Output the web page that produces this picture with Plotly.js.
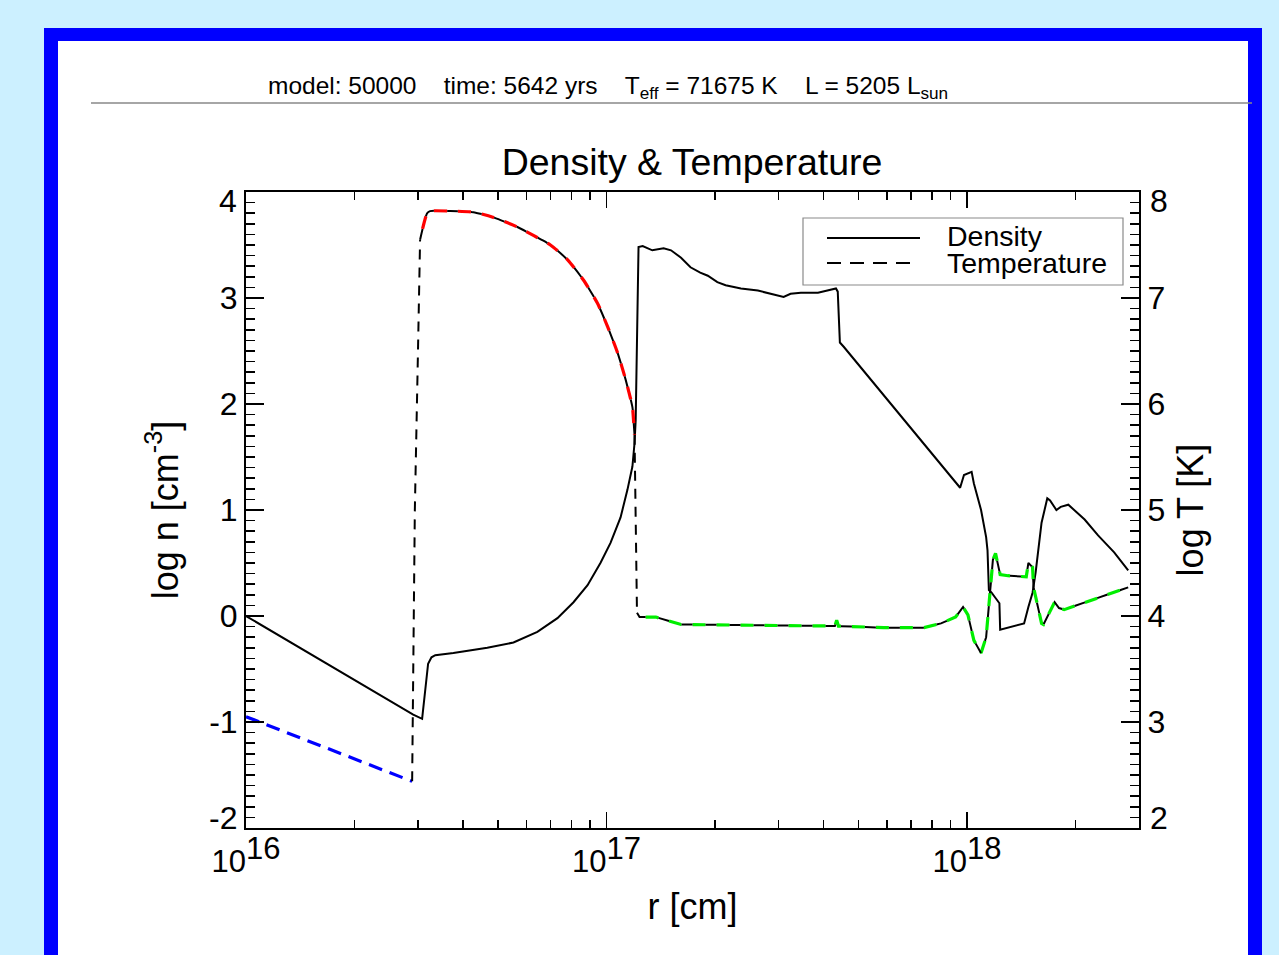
<!DOCTYPE html>
<html>
<head>
<meta charset="utf-8">
<script src="https://cdn.plot.ly/plotly-3.0.1.min.js"></script>
<style>
  html, body { margin: 0; padding: 0; background: #ccf0ff; width: 1279px; height: 955px; overflow: hidden; }
  #frame { position: absolute; left: 44px; top: 28px; width: 1190px; height: 960px; background: #ffffff;
           border-left: 14px solid #0000ff; border-right: 14px solid #0000ff; border-top: 13px solid #0000ff; }
  #plot { position: absolute; left: 0; top: 0; width: 1279px; height: 955px; }
</style>
</head>
<body>
<div id="frame"></div>
<div id="plot"></div>
<script>
// ---------------- data ----------------
// Density profile: radius [cm] and log n [cm^-3]
const r_density = [1.00e16, 2.91e16, 3.08e16, 3.20e16, 3.27e16, 3.35e16, 3.76e16, 4.67e16, 5.52e16, 6.43e16,
  7.31e16, 8.10e16, 8.86e16, 9.62e16, 1.026e17, 1.094e17, 1.143e17, 1.18e17, 1.196e17, 1.205e17,
  1.227e17, 1.26e17, 1.34e17, 1.44e17, 1.51e17, 1.61e17, 1.71e17, 1.82e17, 1.91e17, 2.03e17,
  2.14e17, 2.36e17, 2.63e17, 2.91e17, 3.10e17, 3.24e17, 3.46e17, 3.86e17, 4.11e17, 4.33e17,
  4.38e17, 4.44e17, 4.55e17, 9.57e17, 9.81e17, 1.03e18, 1.045e18, 1.094e18, 1.13e18, 1.14e18,
  1.15e18, 1.17e18, 1.20e18, 1.23e18, 1.236e18, 1.44e18, 1.48e18, 1.52e18, 1.55e18, 1.61e18,
  1.67e18, 1.70e18, 1.77e18, 1.82e18, 1.91e18, 2.12e18, 2.31e18, 2.56e18, 2.80e18];
const logn_density = [0.00, -0.93, -0.97, -0.45, -0.39, -0.37, -0.35, -0.30, -0.25, -0.15,
  -0.02, 0.13, 0.29, 0.50, 0.69, 0.93, 1.19, 1.41, 1.63, 1.85,
  3.48, 3.49, 3.45, 3.47, 3.45, 3.38, 3.29, 3.24, 3.21, 3.15,
  3.12, 3.09, 3.07, 3.03, 3.01, 3.04, 3.05, 3.05, 3.07, 3.09,
  3.06, 2.58, 2.54, 1.21, 1.33, 1.36, 1.25, 1.00, 0.745, 0.62,
  0.245, 0.22, 0.17, 0.12, -0.13, -0.07, 0.085, 0.22, 0.41, 0.88,
  1.11, 1.09, 1.00, 1.03, 1.05, 0.91, 0.76, 0.60, 0.43];

// Temperature profile: radius [cm] and log T [K]
const r_temp = [1.00e16, 2.89e16, 2.94e16, 3.00e16, 3.04e16, 3.18e16, 3.24e16, 3.69e16, 4.27e16, 4.86e16,
  5.66e16, 6.27e16, 6.99e16, 7.80e16, 8.63e16, 9.44e16, 1.007e17, 1.074e17, 1.13e17, 1.18e17,
  1.19e17, 1.196e17, 1.205e17, 1.215e17, 1.235e17, 1.37e17, 1.61e17, 4.30e17, 4.35e17, 4.40e17,
  4.76e17, 5.88e17, 7.60e17, 8.47e17, 9.30e17, 9.75e17, 1.006e18, 1.045e18, 1.094e18, 1.13e18,
  1.16e18, 1.18e18, 1.20e18, 1.236e18, 1.30e18, 1.46e18, 1.48e18, 1.52e18, 1.53e18, 1.57e18,
  1.61e18, 1.63e18, 1.69e18, 1.75e18, 1.80e18, 1.86e18, 2.80e18];
const logT_temp = [3.05, 2.44, 5.00, 6.51, 7.55, 7.80, 7.82, 7.82, 7.81, 7.76,
  7.67, 7.59, 7.50, 7.36, 7.17, 6.95, 6.73, 6.48, 6.23, 5.97,
  5.82, 5.71, 5.00, 4.03, 3.99, 3.99, 3.92, 3.905, 3.96, 3.905,
  3.90, 3.89, 3.89, 3.93, 3.99, 4.085, 4.01, 3.77, 3.65, 3.80,
  4.245, 4.53, 4.59, 4.39, 4.38, 4.37, 4.50, 4.46, 4.27, 4.085,
  3.93, 3.92, 4.03, 4.13, 4.075, 4.06, 4.27];

// Phase boundaries (radius) used to colour the temperature curve
const coldMaxR = 2.89e16;               // blue  : r <= coldMaxR
const hotRange = [3.04e16, 1.196e17];   // red   : hot bubble
const warmMinR = 1.215e17;              // green : r >= warmMinR

const xTickVals = [1e16, 1e17, 1e18];
const xTickText = ['10<sup><span style="font-size:31px">16</span></sup>',
                   '10<sup><span style="font-size:31px">17</span></sup>',
                   '10<sup><span style="font-size:31px">18</span></sup>'];
const yTickVals = [-2, -1, 0, 1, 2, 3, 4];
const yTickText = ['', '-1', '0', '1', '2', '3', ''];
const y2TickVals = [2, 3, 4, 5, 6, 7, 8];
const y2TickText = ['', '3', '4', '5', '6', '7', ''];
// end labels that sit just inside the axis range, as in the original
const yEndLabels = [{v: -2, text: '-2'}, {v: 4, text: '4'}];
const y2EndLabels = [{v: 2, text: '2'}, {v: 8, text: '8'}];

// ---------------- helpers ----------------
function pick(lo, hi) {
  const xs = [], ys = [];
  for (let i = 0; i < r_temp.length; i++) {
    if (r_temp[i] >= lo && r_temp[i] <= hi) { xs.push(r_temp[i]); ys.push(logT_temp[i]); }
  }
  return {x: xs, y: ys};
}
const FONT = 'Liberation Sans, Arial, Helvetica, sans-serif';
// plot area in pixels
const L = 246, R = 1139, T = 192, B = 828;
const px = v => (v - L) / (R - L);
const py = v => (B - v) / (B - T);

const blackDash = '10px,8px';
const pairBlack = '11px,13px';
const pairColor = '0px,11px,13px,0px';

const cold = pick(0, coldMaxR);
const jump1 = pick(coldMaxR, hotRange[0]);
const hot = pick(hotRange[0], hotRange[1]);
const drop = pick(hotRange[1], warmMinR);
const warm = pick(warmMinR, Infinity);

const traces = [
  {x: r_density, y: logn_density, type: 'scatter', mode: 'lines', name: 'Density',
   line: {color: '#000', width: 2}, xaxis: 'x', yaxis: 'y'},
  {x: cold.x, y: cold.y, type: 'scatter', mode: 'lines', name: 'Temperature (cold)',
   line: {color: '#0000ff', width: 3.2, dash: '14px,8px'}, yaxis: 'y2'},
  {x: jump1.x, y: jump1.y, type: 'scatter', mode: 'lines', name: 'Temperature',
   line: {color: '#000', width: 2, dash: blackDash}, yaxis: 'y2'},
  {x: hot.x, y: hot.y, type: 'scatter', mode: 'lines', name: 'Temperature (hot)',
   line: {color: '#ff0000', width: 3.2, dash: pairColor, shape: 'spline', smoothing: 0.6}, yaxis: 'y2'},
  {x: hot.x, y: hot.y, type: 'scatter', mode: 'lines', name: 'Temperature',
   line: {color: '#000', width: 2, dash: pairBlack, shape: 'spline', smoothing: 0.6}, yaxis: 'y2'},
  {x: drop.x, y: drop.y, type: 'scatter', mode: 'lines', name: 'Temperature',
   line: {color: '#000', width: 2, dash: blackDash}, yaxis: 'y2'},
  {x: warm.x, y: warm.y, type: 'scatter', mode: 'lines', name: 'Temperature (warm)',
   line: {color: '#00ee00', width: 3.2, dash: pairColor}, yaxis: 'y2'},
  {x: warm.x, y: warm.y, type: 'scatter', mode: 'lines', name: 'Temperature',
   line: {color: '#000', width: 2, dash: pairBlack}, yaxis: 'y2'}
];

const tickFont = {family: FONT, size: 32, color: '#000'};
const endAnn = [];
yEndLabels.forEach(e => endAnn.push({xref: 'paper', yref: 'paper', x: px(239), y: py(e.v === 4 ? 201 : 818),
  xanchor: 'right', yanchor: 'middle', showarrow: false, text: e.text, font: tickFont}));
y2EndLabels.forEach(e => endAnn.push({xref: 'paper', yref: 'paper', x: px(1148), y: py(e.v === 8 ? 201 : 818),
  xanchor: 'left', yanchor: 'middle', showarrow: false, text: e.text, font: tickFont}));

const layout = {
  width: 1279, height: 955,
  margin: {l: L, r: 1279 - R, t: T, b: 955 - B, pad: 0},
  paper_bgcolor: 'rgba(0,0,0,0)',
  plot_bgcolor: 'rgba(0,0,0,0)',
  showlegend: false,
  font: {family: FONT, color: '#000'},
  title: {text: 'Density & Temperature', font: {family: FONT, size: 37.5, color: '#000'},
          x: px(692), xref: 'paper', y: 1 - 162 / 955, yref: 'container', xanchor: 'center', yanchor: 'middle'},
  xaxis: {
    type: 'log', range: [16, Math.log10(3.0e18)],
    showgrid: false, zeroline: false, showline: true, linecolor: '#000', linewidth: 2, mirror: 'ticks',
    ticks: 'inside', ticklen: 16, tickwidth: 1.5, tickcolor: '#000',
    tickmode: 'array', tickvals: xTickVals, ticktext: xTickText, ticklabelstandoff: 5,
    tickfont: {family: FONT, size: 31, color: '#000'},
    minor: {ticks: 'inside', ticklen: 8, tickwidth: 1.5, tickcolor: '#000', dtick: 'D1', showgrid: false},
    title: {text: 'r [cm]', font: {family: FONT, size: 36, color: '#000'}, standoff: 16},
    automargin: false
  },
  yaxis: {
    range: [-2, 4], showgrid: false, zeroline: false, showline: true, linecolor: '#000', linewidth: 2,
    ticks: 'inside', ticklen: 18, tickwidth: 1.5, tickcolor: '#000',
    tickmode: 'array', tickvals: yTickVals, ticktext: yTickText,
    tickfont: tickFont,
    minor: {ticks: 'inside', ticklen: 9, tickwidth: 1.5, tickcolor: '#000', dtick: 0.1, showgrid: false},
    title: {text: 'log n [cm<sup>-3</sup>]', font: {family: FONT, size: 36, color: '#000'}, standoff: 20},
    automargin: false
  },
  yaxis2: {
    range: [2, 8], overlaying: 'y', side: 'right', showgrid: false, zeroline: false,
    showline: true, linecolor: '#000', linewidth: 2,
    ticks: 'inside', ticklen: 18, tickwidth: 1.5, tickcolor: '#000',
    tickmode: 'array', tickvals: y2TickVals, ticktext: y2TickText,
    tickfont: tickFont,
    minor: {ticks: 'inside', ticklen: 9, tickwidth: 1.5, tickcolor: '#000', dtick: 0.1, showgrid: false},
    title: {text: 'log T [K]', font: {family: FONT, size: 36, color: '#000'}, standoff: 14},
    automargin: false
  },
  shapes: [
    // header rule
    {type: 'line', xref: 'paper', yref: 'paper', x0: px(91), x1: px(1252), y0: py(103), y1: py(103),
     line: {color: '#888888', width: 1.5}},
    // legend box
    {type: 'rect', xref: 'paper', yref: 'paper', x0: px(803), x1: px(1123), y0: py(218), y1: py(285),
     line: {color: '#8a8a8a', width: 1.2}, fillcolor: 'rgba(255,255,255,0)'},
    {type: 'line', xref: 'paper', yref: 'paper', x0: px(827), x1: px(920), y0: py(238), y1: py(238),
     line: {color: '#000', width: 2}},
    {type: 'line', xref: 'paper', yref: 'paper', x0: px(827), x1: px(910), y0: py(263), y1: py(263),
     line: {color: '#000', width: 2, dash: '14px,9px'}}
  ],
  annotations: [
    {xref: 'paper', yref: 'paper', x: px(266), y: py(87), xanchor: 'left', yanchor: 'middle', showarrow: false,
     text: 'model: 50000\u00a0\u00a0\u00a0\u00a0time: 5642 yrs\u00a0\u00a0\u00a0\u00a0T<sub>eff</sub> = 71675 K\u00a0\u00a0\u00a0\u00a0L = 5205 L<sub>sun</sub>',
     font: {family: FONT, size: 24.5, color: '#000'}},
    {xref: 'paper', yref: 'paper', x: px(945), y: py(236), xanchor: 'left', yanchor: 'middle', showarrow: false,
     text: 'Density', font: {family: FONT, size: 28.5, color: '#000'}},
    {xref: 'paper', yref: 'paper', x: px(945), y: py(263), xanchor: 'left', yanchor: 'middle', showarrow: false,
     text: 'Temperature', font: {family: FONT, size: 28.5, color: '#000'}}
  ].concat(endAnn)
};

Plotly.newPlot('plot', traces, layout, {staticPlot: true, displayModeBar: false});
</script>
</body>
</html>
